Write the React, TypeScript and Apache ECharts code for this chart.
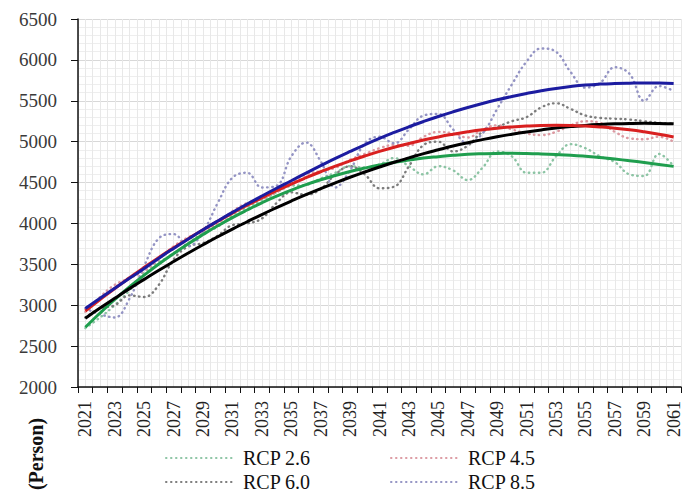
import React, { useEffect, useRef } from 'react';
import * as echarts from 'echarts';

const years = [
  '2021', '2022', '2023', '2024', '2025', '2026', '2027', '2028', '2029', '2030',
  '2031', '2032', '2033', '2034', '2035', '2036', '2037', '2038', '2039', '2040',
  '2041', '2042', '2043', '2044', '2045', '2046', '2047', '2048', '2049', '2050',
  '2051', '2052', '2053', '2054', '2055', '2056', '2057', '2058', '2059', '2060', '2061',
];

// Projected values (dotted)
const rcp26 = [
  2720, 2850, 3000, 3180, 3400, 3530, 3620, 3760, 3880, 3960,
  4100, 4200, 4280, 4380, 4460, 4470, 4550, 4620, 4700, 4680,
  4720, 4800, 4700, 4600, 4700, 4650, 4530, 4680, 4880, 4820,
  4620, 4620, 4820, 4970, 4920, 4820, 4750, 4600, 4580, 4850, 4700,
];
const rcp45 = [
  2920, 3100, 3250, 3330, 3420, 3560, 3720, 3830, 3900, 4000,
  4150, 4250, 4300, 4380, 4500, 4600, 4640, 4680, 4780, 4850,
  4920, 4960, 4950, 5060, 5120, 5100, 5050, 5150, 5200, 5150,
  5100, 5080, 5120, 5200, 5250, 5230, 5120, 5040, 5030, 5060, 5000,
];
const rcp60 = [
  2850, 2960, 3000, 3120, 3100, 3250, 3560, 3720, 3760, 3850,
  3980, 4000, 4060, 4250, 4380, 4350, 4420, 4600, 4700, 4600,
  4430, 4450, 4700, 4960, 5000, 4880, 4950, 5120, 5180, 5250,
  5300, 5420, 5470, 5400, 5320, 5290, 5280, 5270, 5250, 5230, 5220,
];
const rcp85 = [
  2960, 2890, 2850, 3080, 3480, 3820, 3870, 3720, 3900, 4250,
  4560, 4620, 4440, 4460, 4820, 4990, 4760, 4440, 4650, 4980,
  5060, 4980, 5150, 5320, 5340, 5150, 4980, 5100, 5400, 5700,
  5980, 6140, 6100, 5850, 5660, 5720, 5910, 5830, 5500, 5680, 5620,
];

// Trend lines (solid)
const trend26 = [
  2731, 2905, 3070, 3225, 3368, 3504, 3631, 3751, 3864, 3971,
  4071, 4164, 4252, 4333, 4407, 4474, 4534, 4587, 4635, 4677,
  4715, 4748, 4775, 4799, 4817, 4833, 4845, 4852, 4856, 4857,
  4855, 4850, 4843, 4834, 4821, 4805, 4787, 4767, 4745, 4722, 4698,
];
const trend45 = [
  2930, 3069, 3205, 3335, 3462, 3584, 3701, 3814, 3923, 4027,
  4127, 4222, 4313, 4400, 4482, 4559, 4632, 4701, 4765, 4825,
  4881, 4932, 4978, 5020, 5058, 5091, 5120, 5145, 5165, 5180,
  5191, 5198, 5200, 5198, 5191, 5180, 5165, 5145, 5120, 5091, 5058,
];
const trend60 = [
  2841, 2965, 3085, 3203, 3316, 3427, 3534, 3638, 3739, 3837,
  3931, 4021, 4109, 4193, 4274, 4352, 4426, 4497, 4565, 4629,
  4690, 4748, 4802, 4854, 4901, 4946, 4987, 5025, 5060, 5091,
  5119, 5144, 5166, 5184, 5199, 5210, 5218, 5223, 5225, 5223, 5218,
];
const trend85 = [
  2960, 3085, 3208, 3329, 3448, 3575, 3695, 3810, 3922, 4030,
  4135, 4237, 4335, 4430, 4522, 4615, 4706, 4795, 4880, 4962,
  5040, 5113, 5182, 5247, 5308, 5365, 5418, 5467, 5512, 5553,
  5590, 5623, 5651, 5674, 5692, 5704, 5711, 5715, 5717, 5716, 5712,
];

const FONT = '"Liberation Serif", "Times New Roman", serif';

const dotColors = ['#8cc4a4', '#dc9aa2', '#7c7c7c', '#9494c4'];
const solidColors = ['#1f9e4e', '#d92020', '#000000', '#1c1ca0'];

export default function App() {
  const ref = useRef<HTMLDivElement>(null);
  useEffect(() => {
    const chart = echarts.init(ref.current as HTMLDivElement, null, { renderer: 'svg' });
    const dotted = (name: string, data: number[], color: string) => ({
      name,
      type: 'line',
      data,
      smooth: 0.4,
      symbol: 'none',
      xAxisIndex: 0,
      yAxisIndex: 0,
      lineStyle: { color, width: 2.4, type: [0.5, 4.5], cap: 'round' },
      itemStyle: { color },
      z: 2,
    });
    const solid = (name: string, data: number[], color: string, z: number) => ({
      name,
      type: 'line',
      data,
      smooth: true,
      symbol: 'none',
      xAxisIndex: 0,
      yAxisIndex: 0,
      lineStyle: { color, width: 3 },
      itemStyle: { color },
      z,
    });
    const legendBase = {
      orient: 'horizontal',
      itemWidth: 67,
      itemHeight: 20,
      padding: 0,
      itemGap: 0,
      itemStyle: { color: 'transparent', borderColor: 'transparent', borderWidth: 0, opacity: 0 },
      textStyle: { fontFamily: FONT, fontSize: 20, color: '#111', padding: [0, 0, 0, 5] },
    };
    chart.setOption({
      animation: false,
      backgroundColor: '#ffffff',
      textStyle: { fontFamily: FONT },
      grid: { left: 78, right: 10, top: 19, bottom: 106, containLabel: false },
      legend: [
        { ...legendBase, data: ['RCP 2.6'], left: 165, top: 448 },
        { ...legendBase, data: ['RCP 4.5'], left: 390, top: 448 },
        { ...legendBase, data: ['RCP 6.0'], left: 165, top: 472 },
        { ...legendBase, data: ['RCP 8.5'], left: 390, top: 472 },
      ],
      xAxis: [
        {
          type: 'category',
          data: years,
          boundaryGap: true,
          axisLine: { show: true, lineStyle: { color: '#111', width: 1.5 } },
          axisTick: { show: true, interval: 0, length: 6, lineStyle: { color: '#111' } },
          axisLabel: {
            interval: 1,
            rotate: 90,
            margin: 14,
            fontSize: 18,
            color: '#222',
            fontFamily: FONT,
          },
          splitLine: { show: false },
          z: 5,
        },
        {
          type: 'value',
          min: 0,
          max: 82,
          interval: 1,
          position: 'bottom',
          axisLine: { show: false },
          axisTick: { show: false },
          axisLabel: { show: false },
          splitLine: { show: true, lineStyle: { color: '#e8e8e8', width: 1 } },
        },
      ],
      yAxis: {
        type: 'value',
        min: 2000,
        max: 6500,
        interval: 500,
        axisLine: { show: true, lineStyle: { color: '#111', width: 1.5 } },
        axisTick: { show: true, length: 7, lineStyle: { color: '#111' } },
        axisLabel: {
          margin: 21,
          fontSize: 19,
          color: '#3a3a3a',
          fontFamily: FONT,
          formatter: (v: number) => String(v),
        },
        splitLine: { show: true, lineStyle: { color: '#d8d8d8', width: 1 } },
        minorTick: { show: false, splitNumber: 5 },
        minorSplitLine: { show: true, lineStyle: { color: '#eeeeee', width: 1 } },
      },
      series: [
        dotted('RCP 2.6', rcp26, dotColors[0]),
        dotted('RCP 4.5', rcp45, dotColors[1]),
        dotted('RCP 6.0', rcp60, dotColors[2]),
        dotted('RCP 8.5', rcp85, dotColors[3]),
        solid('Trend RCP 2.6', trend26, solidColors[0], 3),
        solid('Trend RCP 6.0', trend60, solidColors[2], 4),
        solid('Trend RCP 4.5', trend45, solidColors[1], 5),
        solid('Trend RCP 8.5', trend85, solidColors[3], 6),
      ],
      graphic: [
        {
          type: 'text',
          x: 36,
          y: 454,
          rotation: Math.PI / 2,
          style: {
            text: '(Person)',
            font: 'bold 20px "Liberation Serif", "Times New Roman", serif',
            fill: '#111',
            align: 'center',
            verticalAlign: 'middle',
          },
        },
      ],
    });
    return () => chart.dispose();
  }, []);
  return (
    <div
      ref={ref}
      style={{ position: 'fixed', left: 0, top: 0, width: 691, height: 493 }}
    />
  );
}
